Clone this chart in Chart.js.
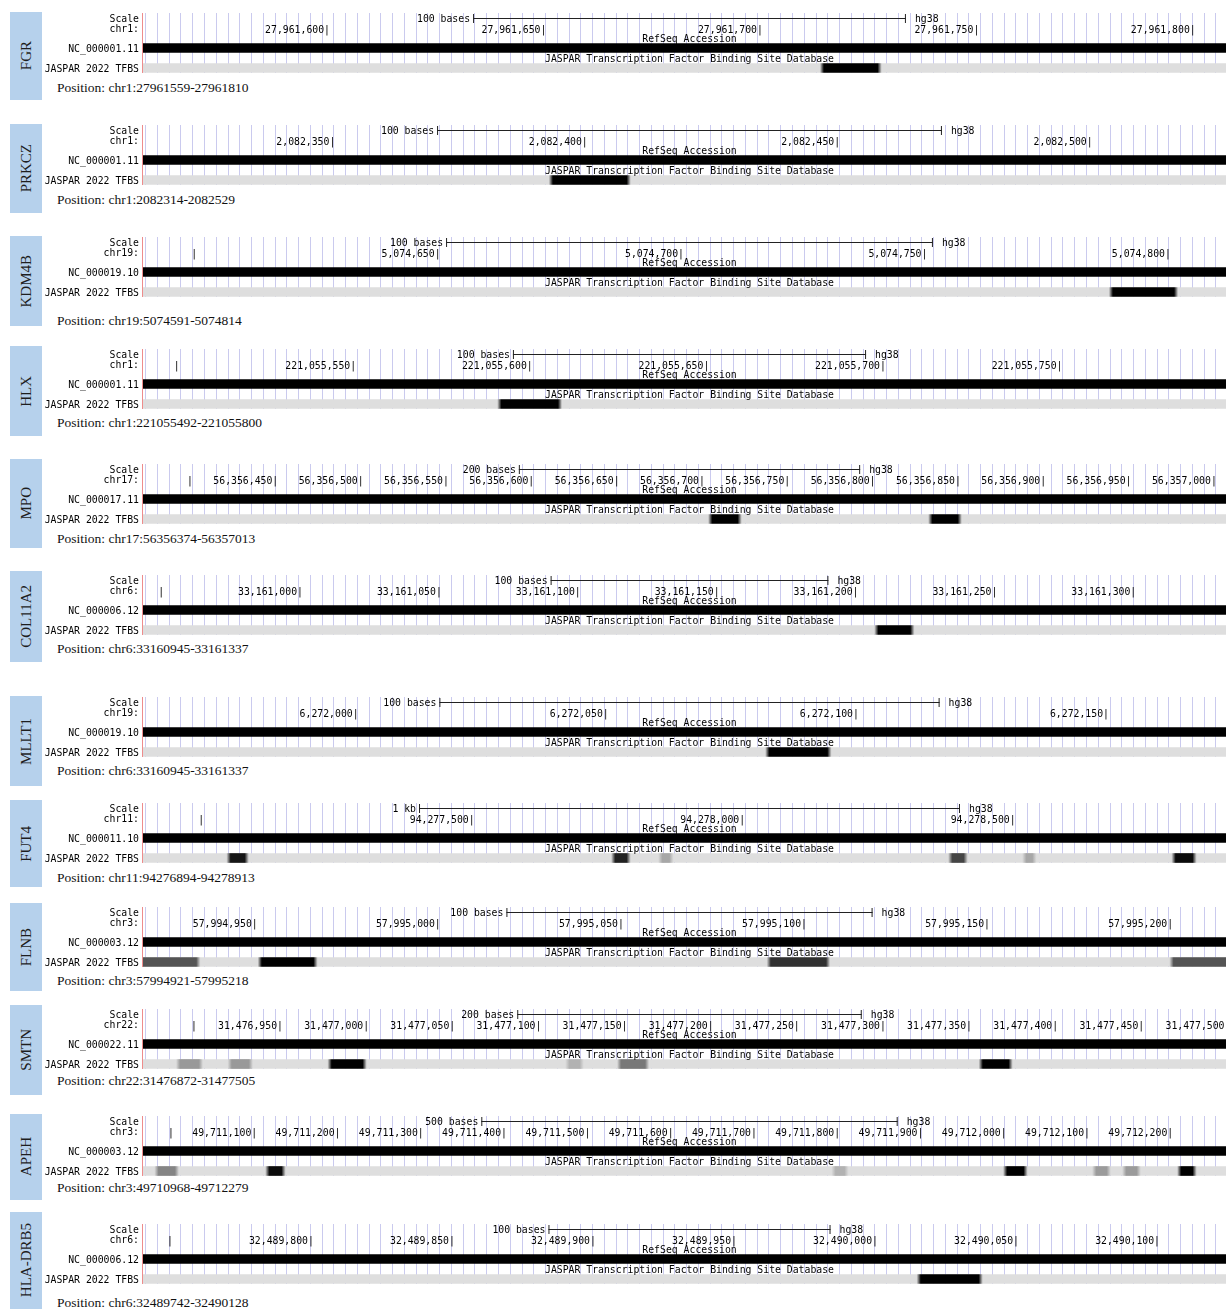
<!DOCTYPE html>
<html>
<head>
<meta charset="utf-8">
<script src="https://cdn.jsdelivr.net/npm/chart.js@4.4.1/dist/chart.umd.min.js"></script>
<style>
  html, body { margin: 0; padding: 0; background: #fff; overflow: hidden; }
  #wrap { position: relative; width: 1226px; height: 1309px; overflow: hidden; }
  #wrap canvas { position: absolute; left: 0; }
  .gene { position: absolute; left: 10px; width: 32px; background: #b6d1ec;
          display: flex; align-items: center; justify-content: center; }
  .gene span { writing-mode: vertical-rl; transform: rotate(180deg);
               font: 15px "Liberation Serif", "Times New Roman", serif; color: #1e1e1e; white-space: nowrap; }
  .pos { position: absolute; left: 57px; font: 13.5px "Liberation Serif", "Times New Roman", serif;
         color: #111; white-space: nowrap; transform: translateY(-50%); }
</style>
</head>
<body>
<div id="wrap"></div>
<script>
// ---- browser snapshots, one per gene ----
const genes = ['FGR', 'PRKCZ', 'KDM4B', 'HLX', 'MPO', 'COL11A2', 'MLLT1', 'FUT4', 'FLNB', 'SMTN', 'APEH', 'HLA-DRB5'];
const chromosomes = ['chr1', 'chr1', 'chr19', 'chr1', 'chr17', 'chr6', 'chr19', 'chr11', 'chr3', 'chr22', 'chr3', 'chr6'];
const accessions = ['NC_000001.11', 'NC_000001.11', 'NC_000019.10', 'NC_000001.11', 'NC_000017.11', 'NC_000006.12',
                    'NC_000019.10', 'NC_000011.10', 'NC_000003.12', 'NC_000022.11', 'NC_000003.12', 'NC_000006.12'];

// window shown in each track (1-based, inclusive)
const viewStart = [27961559, 2082314, 5074591, 221055492, 56356374, 33160945, 6271959, 94276894, 57994921, 31476872, 49710968, 32489742];
const viewEnd   = [27961810, 2082529, 5074814, 221055800, 56357013, 33161337, 6272176, 94278913, 57995218, 31477505, 49712279, 32490128];

const positionLabels = ['chr1:27961559-27961810', 'chr1:2082314-2082529', 'chr19:5074591-5074814', 'chr1:221055492-221055800',
                        'chr17:56356374-56357013', 'chr6:33160945-33161337', 'chr6:33160945-33161337', 'chr11:94276894-94278913',
                        'chr3:57994921-57995218', 'chr22:31476872-31477505', 'chr3:49710968-49712279', 'chr6:32489742-32490128'];

const scaleBarBases  = [100, 100, 100, 100, 200, 100, 100, 1000, 100, 200, 500, 100];
const scaleBarLabels = ['100 bases', '100 bases', '100 bases', '100 bases', '200 bases', '100 bases',
                        '100 bases', '1 kb', '100 bases', '200 bases', '500 bases', '100 bases'];

// coordinate ticks on the chromosome ruler
const tickValues = [
  [27961600, 27961650, 27961700, 27961750, 27961800],
  [2082350, 2082400, 2082450, 2082500],
  [5074600, 5074650, 5074700, 5074750, 5074800],
  [221055500, 221055550, 221055600, 221055650, 221055700, 221055750],
  [56356400, 56356450, 56356500, 56356550, 56356600, 56356650, 56356700, 56356750, 56356800, 56356850, 56356900, 56356950, 56357000],
  [33160950, 33161000, 33161050, 33161100, 33161150, 33161200, 33161250, 33161300],
  [6272000, 6272050, 6272100, 6272150],
  [94277000, 94277500, 94278000, 94278500],
  [57994950, 57995000, 57995050, 57995100, 57995150, 57995200],
  [31476900, 31476950, 31477000, 31477050, 31477100, 31477150, 31477200, 31477250, 31477300, 31477350, 31477400, 31477450, 31477500],
  [49711000, 49711100, 49711200, 49711300, 49711400, 49711500, 49711600, 49711700, 49711800, 49711900, 49712000, 49712100, 49712200],
  [32489750, 32489800, 32489850, 32489900, 32489950, 32490000, 32490050, 32490100]
];
// ticks drawn as a bare mark (label would run off the left edge)
const bareTicks = [null, null, 5074600, 221055500, 56356400, 33160950, null, 94277000, null, 31476900, 49711000, 32489750];

// JASPAR 2022 TFBS hits: [start, end, score]
const tfbsSites = [
  [[27961714, 27961728, 1000]],
  [[2082393, 2082409, 1000]],
  [[5074788, 5074802, 1000]],
  [[221055591, 221055609, 1000]],
  [[56356704, 56356723, 1000], [56356833, 56356852, 1000]],
  [[33161207, 33161221, 1000]],
  [[6272082, 6272095, 1000]],
  [[94277048, 94277087, 900], [94277759, 94277793, 850], [94277846, 94277872, 250],
   [94278382, 94278416, 690], [94278519, 94278543, 250], [94278795, 94278839, 950]],
  [[57994915, 57994935, 620], [57994951, 57994967, 1000], [57995090, 57995107, 780], [57995200, 57995225, 620]],
  [[31476890, 31476905, 310], [31476920, 31476934, 310], [31476978, 31477000, 1000],
   [31477116, 31477126, 200], [31477146, 31477164, 460], [31477356, 31477375, 1000]],
  [[49710981, 49711009, 400], [49711114, 49711137, 950], [49711794, 49711813, 200],
   [49712000, 49712028, 1000], [49712107, 49712128, 300], [49712143, 49712164, 300], [49712209, 49712231, 1000]],
  [[32490015, 32490038, 1000]]
];

// ---- page layout ----
const panelRowY = [18, 130, 242, 354, 469, 580, 702, 808, 912, 1014, 1121, 1229]; // centre of the "Scale" row
const boxSpan   = [[12, 100], [124, 213], [236, 326], [346, 436], [459, 548], [571, 662],
                   [696, 786], [800, 887], [903, 991], [1005, 1095], [1114, 1200], [1212, 1309]];
const positionY = [88, 200, 321, 423, 539, 649, 771, 878, 981, 1081, 1188, 1303];

const MONO = '"DejaVu Sans Mono", "Liberation Mono", monospace';
const TRACK_FONT = { family: MONO, size: 9.8 };
const INK = '#000';
const GUIDE = 'rgba(196, 196, 236, 0.9)';
const CANVAS_W = 1236, LABEL_W = 143, ROW_H = 10;
const TFBS_ROW = 'JASPAR 2022 TFBS';
const TEXT_NUDGE = 1; // monospace digits sit a touch high on a 'middle' baseline

const shade = score => Math.round(222 * (1 - score / 1000));
const fmt = v => v.toLocaleString('en-US');

const wrap = document.getElementById('wrap');

// fill for a TFBS hit: its score shade, feathered at both ends
function siteFill(c) {
  const raw = c.raw;
  if (!raw || !raw.x) return '#000';
  const g = shade(raw.score);
  const col = `rgba(${g},${g},${g},`;
  const xs = c.chart.scales.x;
  const a = xs ? xs.getPixelForValue(raw.x[0]) : NaN;
  const b = xs ? xs.getPixelForValue(raw.x[1]) : NaN;
  if (!isFinite(a) || !isFinite(b) || b <= a) return col + '1)';
  const grad = c.chart.ctx.createLinearGradient(a, 0, b, 0);
  const f = Math.min(0.45, 3.5 / (b - a));
  grad.addColorStop(0, col + '0.15)');
  grad.addColorStop(f, col + '1)');
  grad.addColorStop(1 - f, col + '1)');
  grad.addColorStop(1, col + '0.15)');
  return grad;
}

const decor = {
  id: 'ucscDecor',
  afterDatasetsDraw(chart, args, opts) {
    const { ctx, chartArea: ca, scales } = chart;
    const xs = scales.x, ys = scales.y;
    const i = opts.panel;
    const scaleY = ca.top - ROW_H / 2;
    ctx.save();
    ctx.font = `${TRACK_FONT.size}px ${MONO}`;
    ctx.fillStyle = INK;
    ctx.textBaseline = 'middle';

    // left separator
    ctx.strokeStyle = '#ee8c8c';
    ctx.lineWidth = 1;
    ctx.beginPath();
    ctx.moveTo(ca.left - 0.5, 0);
    ctx.lineTo(ca.left - 0.5, ca.bottom);
    ctx.stroke();

    // "Scale" row with the length bar centred on the window
    ctx.textAlign = 'right';
    ctx.fillText('Scale', LABEL_W - 4, scaleY + TEXT_NUDGE);
    const mid = (xs.min + xs.max) / 2;
    const x1 = xs.getPixelForValue(mid - scaleBarBases[i] / 2);
    const x2 = xs.getPixelForValue(mid + scaleBarBases[i] / 2);
    ctx.strokeStyle = '#222';
    ctx.beginPath();
    ctx.moveTo(x1, scaleY + 0.5); ctx.lineTo(x2, scaleY + 0.5);
    ctx.moveTo(x1 + 0.5, scaleY - 4); ctx.lineTo(x1 + 0.5, scaleY + 5);
    ctx.moveTo(x2 - 0.5, scaleY - 4); ctx.lineTo(x2 - 0.5, scaleY + 5);
    ctx.stroke();
    ctx.fillText(scaleBarLabels[i], x1 - 3, scaleY + TEXT_NUDGE);
    ctx.textAlign = 'left';
    ctx.fillText('hg38', x2 + 9, scaleY + TEXT_NUDGE);

    // track titles
    ctx.textAlign = 'center';
    const cx = (ca.left + ca.right) / 2;
    ctx.fillText('RefSeq Accession', cx, ys.getPixelForValue(1) + TEXT_NUDGE);
    ctx.fillText('JASPAR Transcription Factor Binding Site Database', cx, ys.getPixelForValue(3) + TEXT_NUDGE);
    ctx.restore();
  }
};

genes.forEach((gene, i) => {
  // gene tag and position caption
  const box = document.createElement('div');
  box.className = 'gene';
  box.style.top = boxSpan[i][0] + 'px';
  box.style.height = (boxSpan[i][1] - boxSpan[i][0]) + 'px';
  box.innerHTML = `<span>${gene}</span>`;
  wrap.appendChild(box);

  const pos = document.createElement('div');
  pos.className = 'pos';
  pos.style.top = positionY[i] + 'px';
  pos.textContent = 'Position: ' + positionLabels[i];
  wrap.appendChild(pos);

  // browser tracks
  const canvas = document.createElement('canvas');
  canvas.width = CANVAS_W;
  canvas.height = 6 * ROW_H;
  canvas.style.top = (panelRowY[i] - ROW_H / 2) + 'px';
  wrap.appendChild(canvas);

  const lo = viewStart[i] - 1.5, hi = viewEnd[i];
  const rows = [chromosomes[i] + ':', '', accessions[i], ' ', TFBS_ROW];

  new Chart(canvas, {
    type: 'bar',
    data: {
      labels: rows,
      datasets: [
        {
          label: 'JASPAR 2022 TFBS hits',
          data: tfbsSites[i].map(([a, b, score]) => ({ x: [a, b], y: TFBS_ROW, score })),
          backgroundColor: siteFill,
          barThickness: 9, grouped: false, borderWidth: 0
        },
        {
          label: 'TFBS track',
          data: [{ x: [lo - 1e4, hi + 1e4], y: TFBS_ROW }],
          backgroundColor: '#dedede', barThickness: 9, grouped: false, borderWidth: 0
        },
        {
          label: accessions[i],
          data: [{ x: [lo - 1e4, hi + 1e4], y: accessions[i] }],
          backgroundColor: '#000', barThickness: 9, grouped: false, borderWidth: 0
        }
      ]
    },
    options: {
      indexAxis: 'y',
      responsive: false,
      animation: false,
      events: [],
      layout: { padding: 0 },
      plugins: { legend: { display: false }, tooltip: { enabled: false }, ucscDecor: { panel: i } },
      scales: {
        x: {
          type: 'linear', position: 'top', min: lo, max: hi, weight: 0,
          grid: { display: false, drawTicks: false },
          border: { display: false },
          afterBuildTicks: sc => { sc.ticks = tickValues[i].map(v => ({ value: v })); },
          afterFit: sc => { sc.height = 0; sc.paddingLeft = 0; sc.paddingRight = 0; },
          ticks: {
            mirror: true, padding: 1.5, labelOffset: 3, align: 'end', autoSkip: false, maxRotation: 0, minRotation: 0,
            font: TRACK_FONT, color: INK,
            callback: v => (v === bareTicks[i] ? '|' : fmt(v) + '|')
          }
        },
        guides: {
          type: 'linear', axis: 'x', position: 'top', min: 0, max: CANVAS_W - LABEL_W, weight: 1,
          grid: { display: true, drawOnChartArea: true, drawTicks: true, tickLength: ROW_H,
                  color: GUIDE, tickColor: GUIDE, lineWidth: 1 },
          border: { display: false },
          ticks: { display: false },
          afterBuildTicks: sc => {
            const t = [];
            for (let p = 2.7; p < CANVAS_W - LABEL_W; p += 11.76) t.push({ value: p });
            sc.ticks = t;
          },
          afterFit: sc => { sc.height = ROW_H; sc.paddingLeft = 0; sc.paddingRight = 0; }
        },
        y: {
          type: 'category', offset: true,
          grid: { display: false, drawTicks: false },
          border: { display: false },
          ticks: { font: TRACK_FONT, color: INK, padding: 4, labelOffset: TEXT_NUDGE, autoSkip: false },
          afterFit: sc => { sc.width = LABEL_W; sc.paddingTop = 0; sc.paddingBottom = 0; }
        }
      }
    },
    plugins: [decor]
  });
});
</script>
</body>
</html>
